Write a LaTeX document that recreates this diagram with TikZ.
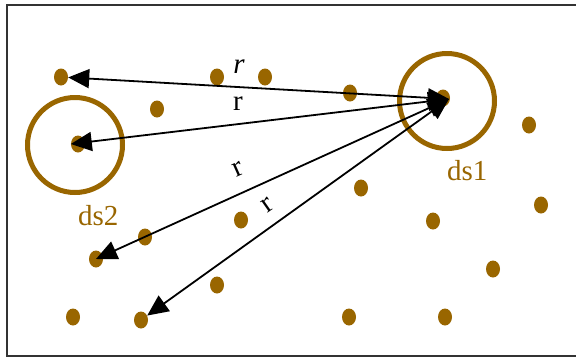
\documentclass[tikz,border=0pt]{standalone}
\usepackage{fontspec}
\setmainfont{Liberation Serif}
\usetikzlibrary{arrows.meta,positioning,shapes.geometric}
\definecolor{dsbrown}{RGB}{153,102,0}

\begin{document}
\begin{tikzpicture}[
  x=1pt,y=-1pt,
  font=\fontsize{29}{32}\selectfont,
  >={Triangle[length=21pt,width=19pt]},
  pt/.style={ellipse,fill=dsbrown,minimum width=14pt,minimum height=17pt,inner sep=0pt},
  ring/.style={circle,draw=dsbrown,line width=5pt,minimum size=95pt,inner sep=0pt},
  dslabel/.style={text=dsbrown,anchor=base west,inner sep=0pt},
  rlabel/.style={inner sep=0pt},
  arr/.style={<->,line width=1.8pt}
]
\useasboundingbox (0,0) rectangle (576,357);
\draw[line width=1.6pt,draw=black!80] (7,5) rectangle (590,356);

% data points
\node[pt] (p1) at (61,77) {};
\node[pt] (p2) at (217,77) {};
\node[pt] (p3) at (265,77) {};
\node[pt] (p4) at (157,109) {};
\node[pt] (p5) at (350,93) {};
\node[pt] (p6) at (529,125) {};
\node[pt] (p7) at (361,188) {};
\node[pt] (p8) at (433,221) {};
\node[pt] (p9) at (541,205) {};
\node[pt] (p10) at (493,269) {};
\node[pt] (p11) at (349,317) {};
\node[pt] (p12) at (445,317) {};
\node[pt] (p13) at (241,220) {};
\node[pt] (p14) at (145,237) {};
\node[pt] (p15) at (96,259) {};
\node[pt] (p16) at (217,285) {};
\node[pt] (p17) at (73,317) {};
\node[pt] (p18) at (141,320) {};
\node[pt] (d1) at (443,98) {};
\node[pt] (d2) at (78,144) {};

% dense regions
\node[ring] (ds1) at (447,101) {};
\node[ring] (ds2) at (75,145) {};
\node[dslabel] (ds1lbl) at (447,180) {ds1};
\node[dslabel] (ds2lbl) at (78,225) {ds2};

\coordinate (hub) at (449,99);
\draw[arr] (hub) -- (p1);
\draw[arr] (hub) -- (d2.west);
\draw[arr] (hub) -- (p15.center);
\draw[arr] (hub) -- (p18);

\node[rlabel] (r1) at (239,67) {\itshape r};
\node[rlabel] (r2) at (238,104) {r};
\node[rlabel,rotate=24] (r3) at (238,169) {r};
\node[rlabel,rotate=35] (r4) at (268,205) {r};
\end{tikzpicture}
\end{document}
